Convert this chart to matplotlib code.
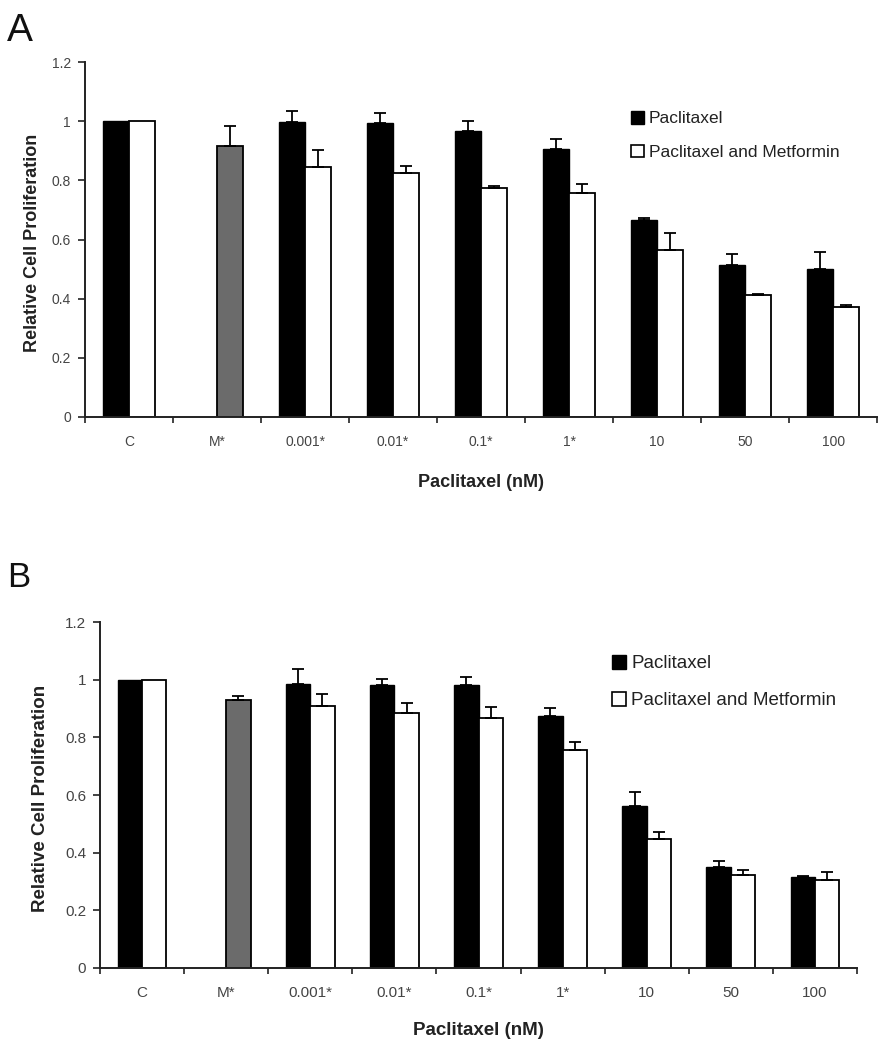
import numpy as np
import matplotlib
matplotlib.use('Agg')
import matplotlib.pyplot as plt
from matplotlib.patches import Patch

plt.rcParams['font.family'] = ['Liberation Sans', 'DejaVu Sans']

categories = ['C', 'M*', '0.001*', '0.01*', '0.1*', '1*', '10', '50', '100']

# Panel A (gia tri doc tu hinh)
a_pac = [1.0, np.nan, 0.996, 0.995, 0.967, 0.906, 0.665, 0.514, 0.499]
a_pac_err = [np.nan, np.nan, 0.038, 0.033, 0.034, 0.033, 0.007, 0.036, 0.058]
a_met = [1.0, 0.917, 0.844, 0.824, 0.775, 0.758, 0.566, 0.411, 0.373]
a_met_err = [np.nan, 0.067, 0.060, 0.025, 0.005, 0.029, 0.056, 0.005, 0.005]

# Panel B
b_pac = [1.0, np.nan, 0.986, 0.981, 0.981, 0.873, 0.563, 0.350, 0.315]
b_pac_err = [np.nan, np.nan, 0.050, 0.023, 0.028, 0.029, 0.046, 0.021, 0.003]
b_met = [1.0, 0.929, 0.908, 0.883, 0.867, 0.756, 0.446, 0.321, 0.306]
b_met_err = [np.nan, 0.014, 0.044, 0.037, 0.038, 0.027, 0.024, 0.020, 0.028]

yticks = [0, 0.2, 0.4, 0.6, 0.8, 1.0, 1.2]
ytick_labels = ['0', '0.2', '0.4', '0.6', '0.8', '1', '1.2']

TICK_COLOR = '#444444'
AXIS_COLOR = '#222222'


def draw_panel(ax, pac, pac_err, met, met_err, width, ylabel_x, xlabel_y,
               legend_anchor, legend_fs, tick_fs, label_fs):
    x = np.arange(len(categories))
    pac = np.array(pac)
    met = np.array(met)
    pac_err = np.array(pac_err)
    met_err = np.array(met_err)

    # chi ve thanh sai so phia tren
    ax.bar(x - width / 2, pac, width, color='black', edgecolor='black',
           linewidth=1.0, zorder=2)
    ax.errorbar(x - width / 2, pac, yerr=[pac_err * 0, pac_err], fmt='none',
                ecolor='black', elinewidth=1.3, capsize=4, capthick=1.3, zorder=3)

    met_colors = ['white'] * len(categories)
    met_colors[1] = '#6b6b6b'  # metformin alone
    ax.bar(x + width / 2, met, width, color=met_colors, edgecolor='black',
           linewidth=1.3, zorder=2)
    ax.errorbar(x + width / 2, met, yerr=[met_err * 0, met_err], fmt='none',
                ecolor='black', elinewidth=1.3, capsize=4, capthick=1.3, zorder=3)

    ax.set_xlim(-0.5, len(categories) - 0.5)
    ax.set_ylim(0, 1.2)
    for s in ['top', 'right']:
        ax.spines[s].set_visible(False)
    for s in ['left', 'bottom']:
        ax.spines[s].set_color(AXIS_COLOR)
        ax.spines[s].set_linewidth(1.4)

    ax.set_yticks(yticks)
    ax.set_yticklabels(ytick_labels)
    ax.set_xticks(x)
    ax.set_xticklabels(categories)
    ax.set_xticks(np.arange(len(categories) + 1) - 0.5, minor=True)
    ax.tick_params(axis='x', which='major', length=0, pad=13, labelsize=tick_fs,
                   labelcolor=TICK_COLOR)
    ax.tick_params(axis='x', which='minor', length=4, width=1.2,
                   direction='out', color=AXIS_COLOR)
    ax.tick_params(axis='y', length=5, width=1.2, direction='out', pad=5,
                   labelsize=tick_fs, labelcolor=TICK_COLOR, color=AXIS_COLOR)

    ax.set_ylabel('Relative Cell Proliferation', fontsize=label_fs,
                  fontweight='bold', color='#222222')
    ax.yaxis.set_label_coords(ylabel_x, 0.49)
    ax.set_xlabel('Paclitaxel (nM)', fontsize=label_fs, fontweight='bold',
                  color='#222222')
    ax.xaxis.set_label_coords(0.5, xlabel_y)

    handles = [Patch(facecolor='black', edgecolor='black', label='Paclitaxel'),
               Patch(facecolor='white', edgecolor='black', linewidth=1.2,
                     label='Paclitaxel and Metformin')]
    ax.legend(handles=handles, loc='upper left', bbox_to_anchor=legend_anchor,
              frameon=False, fontsize=legend_fs, handlelength=0.75,
              handleheight=0.75, handletextpad=0.3, labelspacing=1.05,
              borderpad=0, borderaxespad=0, labelcolor='#222222')


fig = plt.figure(figsize=(8.89, 10.5), dpi=100)

ax_a = fig.add_axes([0.0956, 0.6029, 0.891, 0.338])
draw_panel(ax_a, a_pac, a_pac_err, a_met, a_met_err, 0.3, -0.055, -0.16,
           (0.689, 0.862), 12.5, 10, 13)

ax_b = fig.add_axes([0.1125, 0.0781, 0.8515, 0.3295])
draw_panel(ax_b, b_pac, b_pac_err, b_met, b_met_err, 0.29, -0.067, -0.155,
           (0.676, 0.905), 13.5, 11, 13.5)

fig.text(0.008, 0.988, 'A', fontsize=28, va='top', ha='left', color='#111111')
fig.text(0.008, 0.466, 'B', fontsize=25, va='top', ha='left', color='#111111')

fig.savefig('out.png', dpi=100)
